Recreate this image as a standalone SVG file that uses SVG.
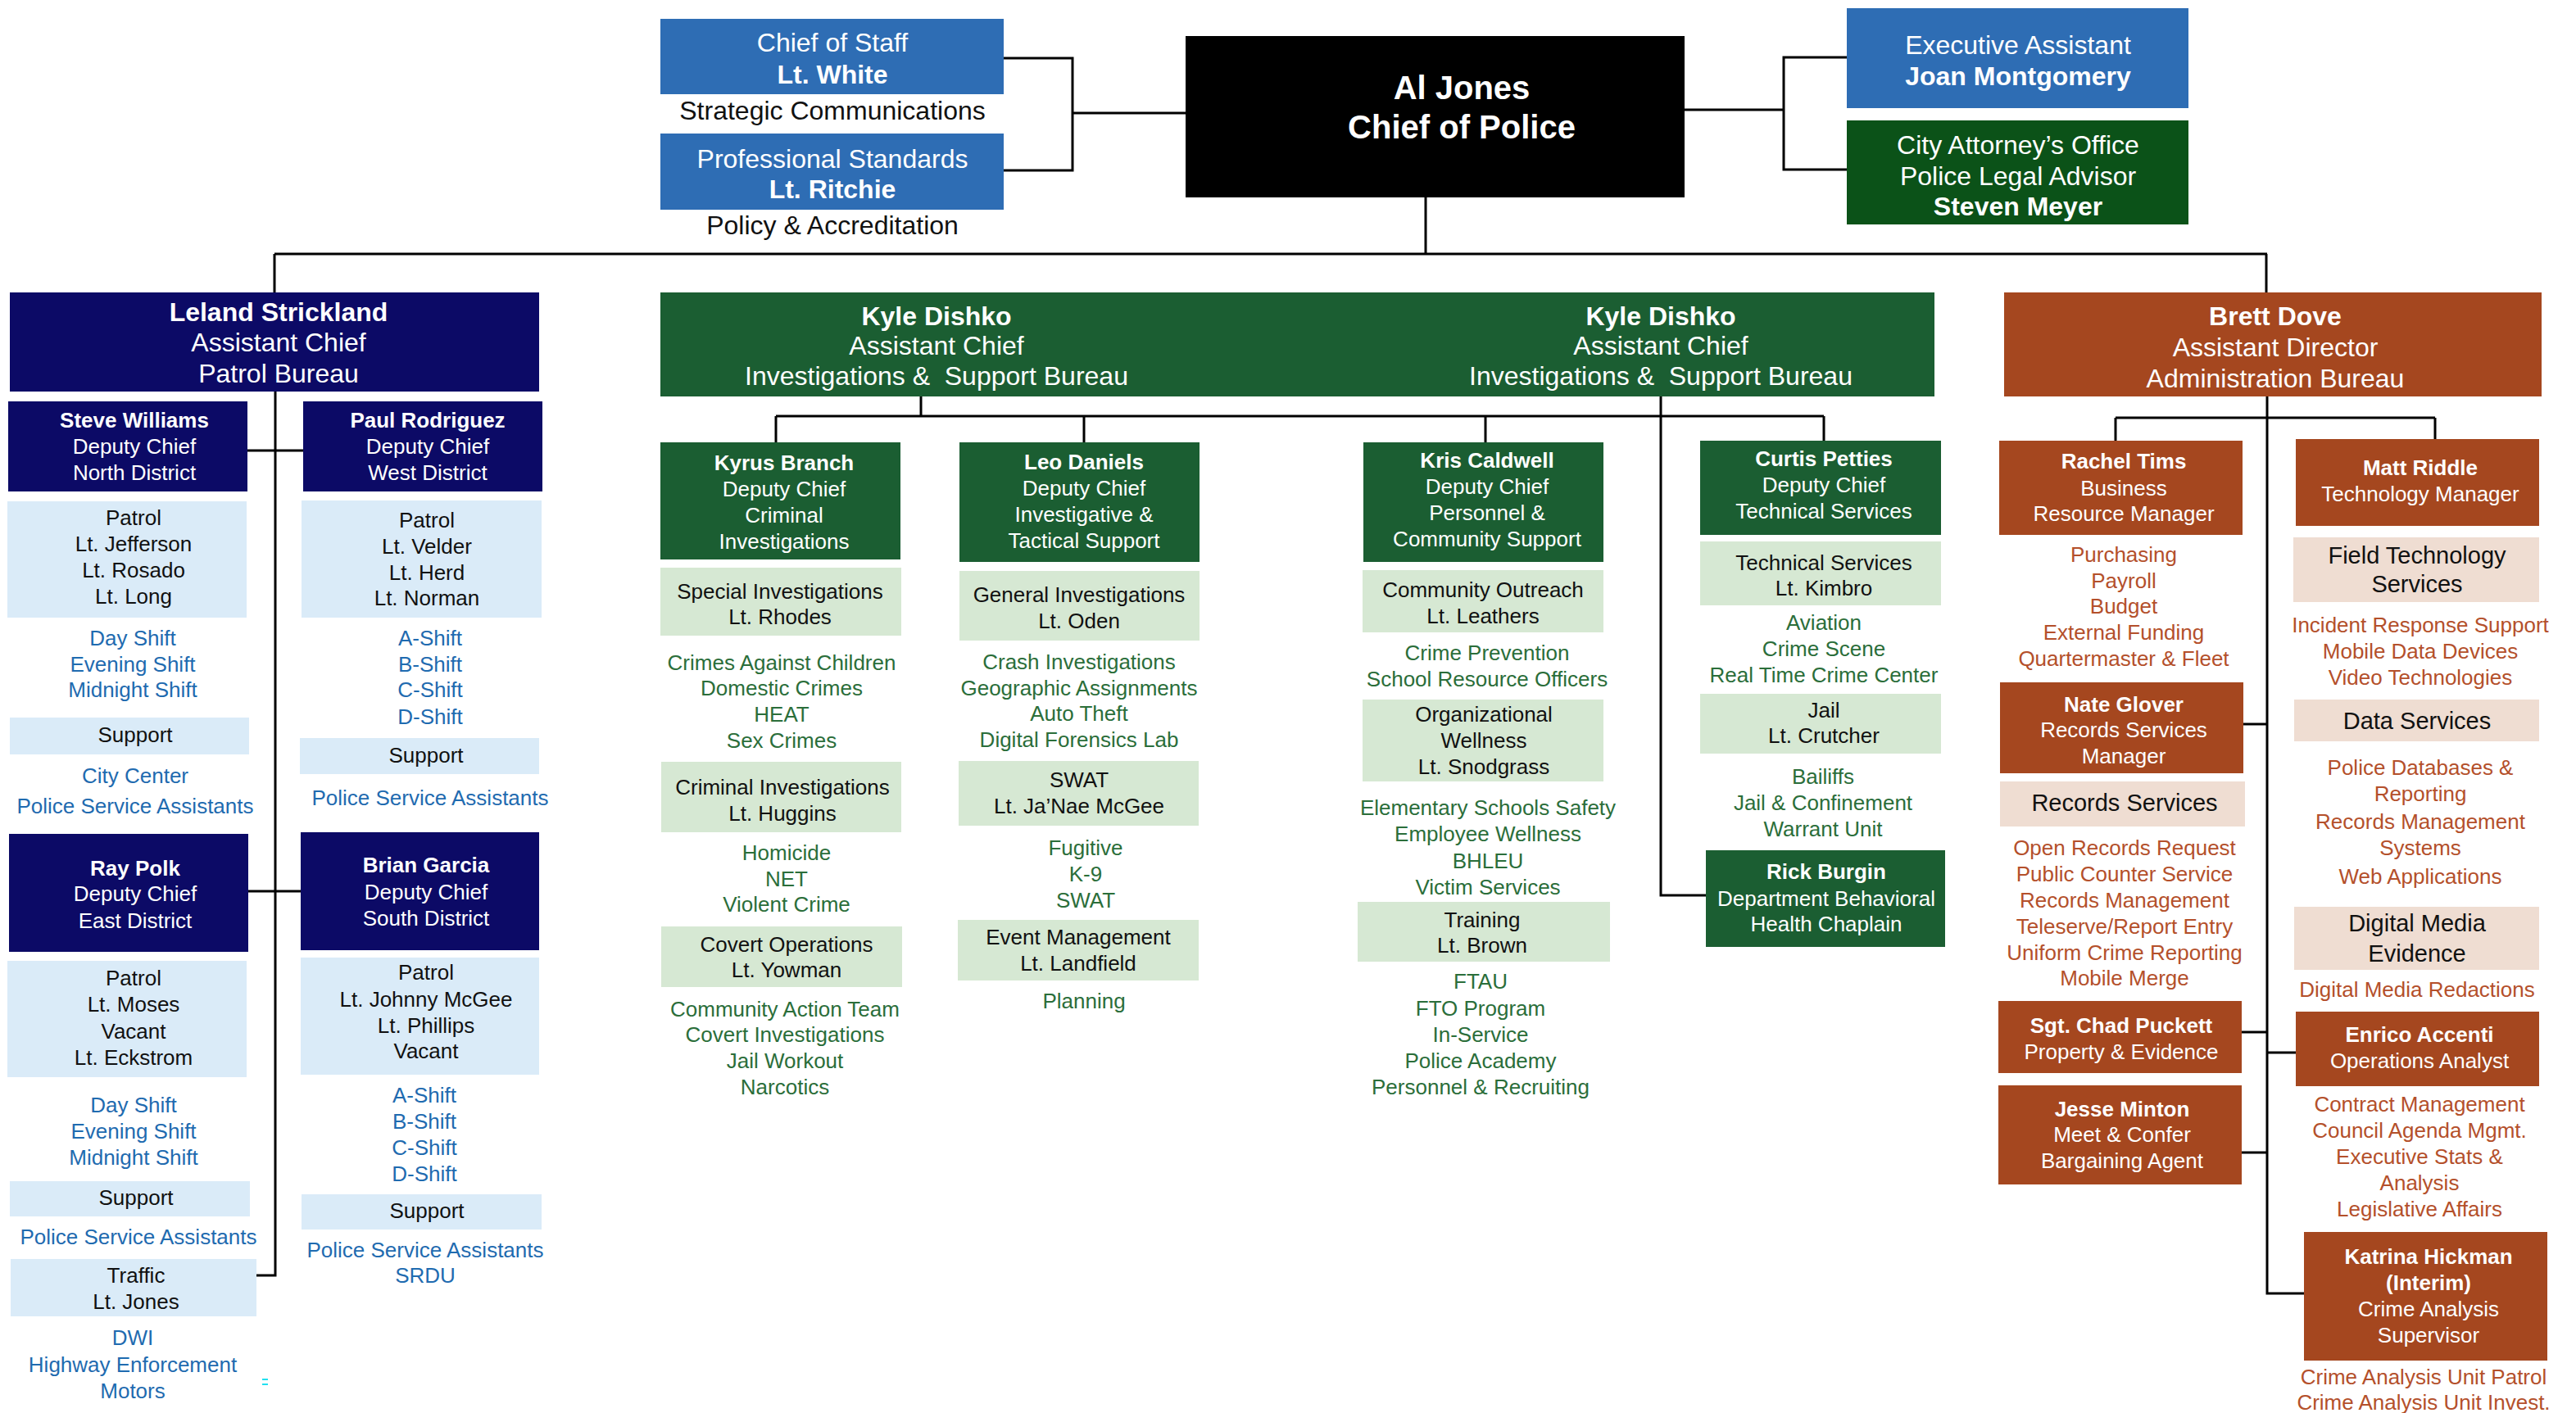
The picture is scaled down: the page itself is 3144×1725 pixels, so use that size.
<svg xmlns="http://www.w3.org/2000/svg" width="3144" height="1725" viewBox="0 0 3144 1725">
<style>
text{font-family:"Liberation Sans",Arial,Helvetica,sans-serif;text-anchor:middle;white-space:pre}
.s26{font-size:26px}.s29{font-size:29px}.s32{font-size:32px}.s40{font-size:40px}
.bd{font-weight:bold}
.wh{fill:#ffffff}.bk{fill:#111111}
.tb{fill:#1F6BB0}.tg{fill:#2B6E3A}.to{fill:#B4502B}
.blue{fill:#2E6DB4}.black{fill:#000000}.dg{fill:#0B5218}
.navy{fill:#0C0A66}.lb{fill:#DAEBF8}
.gr{fill:#1B5E32}.lg{fill:#D6E8D3}
.br{fill:#A5471F}.pc{fill:#EFDDD2}
.c{fill:none;stroke:#000000;stroke-width:3}
</style>
<rect width="3144" height="1725" fill="#ffffff"/>

<g id="connectors">
<path class="c" d="M1225,71 H1309 V208 H1225 M1309,138 H1447"/>
<path class="c" d="M2254,70 H2177 V207 H2254 M2056,134 H2177"/>
<path class="c" d="M1740,241 V310 M335,310 H2767 M335,310 V357 M2766,310 V357"/>
<path class="c" d="M336,478 V1557 H313 M302,550 H370 M303,1088 H367"/>
<path class="c" d="M1124,484 V508 M947,508 H2226 M947,508 V540 M1323,508 V540 M1813,508 V540 M2226,508 V538"/>
<path class="c" d="M2027,484 V1093 H2082"/>
<path class="c" d="M2767,484 V1579 H2812 M2582,510 H2972 M2582,510 V538 M2972,510 V536"/>
<path class="c" d="M2738,884 H2767 M2736,1260 H2767 M2767,1285 H2802 M2736,1407 H2767"/>
</g>

<g id="chief-of-staff">
<rect class="blue" x="806" y="23" width="419" height="92"/>
<text class="s32 wh" x="1016" y="63">Chief of Staff</text>
<text class="s32 wh bd" x="1016" y="102">Lt. White</text>
<text class="s32 bk" x="1016" y="146">Strategic Communications</text>
</g>
<g id="professional-standards">
<rect class="blue" x="806" y="163" width="419" height="93"/>
<text class="s32 wh" x="1016" y="205">Professional Standards</text>
<text class="s32 wh bd" x="1016" y="242">Lt. Ritchie</text>
<text class="s32 bk" x="1016" y="286">Policy &amp; Accreditation</text>
</g>
<g id="chief-of-police">
<rect class="black" x="1447" y="44" width="609" height="197"/>
<text class="s40 wh bd" x="1784" y="121">Al Jones</text>
<text class="s40 wh bd" x="1784" y="169">Chief of Police</text>
</g>
<g id="executive-assistant">
<rect class="blue" x="2254" y="10" width="417" height="122"/>
<text class="s32 wh" x="2463" y="66">Executive Assistant</text>
<text class="s32 wh bd" x="2463" y="104">Joan Montgomery</text>
</g>
<g id="city-attorney">
<rect class="dg" x="2254" y="147" width="417" height="127"/>
<text class="s32 wh" x="2463" y="188">City Attorney’s Office</text>
<text class="s32 wh" x="2463" y="226">Police Legal Advisor</text>
<text class="s32 wh bd" x="2463" y="263">Steven Meyer</text>
</g>

<g id="patrol-bureau">
<rect class="navy" x="12" y="357" width="646" height="121"/>
<text class="s32 wh bd" x="340" y="392">Leland Strickland</text>
<text class="s32 wh" x="340" y="429">Assistant Chief</text>
<text class="s32 wh" x="340" y="467">Patrol Bureau</text>
</g>
<g id="north-district">
<rect class="navy" x="10" y="490" width="292" height="110"/>
<text class="s26 wh bd" x="164" y="522">Steve Williams</text>
<text class="s26 wh" x="164" y="554">Deputy Chief</text>
<text class="s26 wh" x="164" y="586">North District</text>
<rect class="lb" x="9" y="612" width="292" height="142"/>
<text class="s26 bk" x="163" y="641">Patrol</text>
<text class="s26 bk" x="163" y="673">Lt. Jefferson</text>
<text class="s26 bk" x="163" y="705">Lt. Rosado</text>
<text class="s26 bk" x="163" y="737">Lt. Long</text>
<text class="s26 tb" x="162" y="788">Day Shift</text>
<text class="s26 tb" x="162" y="820">Evening Shift</text>
<text class="s26 tb" x="162" y="851">Midnight Shift</text>
<rect class="lb" x="12" y="876" width="292" height="45"/>
<text class="s26 bk" x="165" y="906">Support</text>
<text class="s26 tb" x="165" y="956">City Center</text>
<text class="s26 tb" x="165" y="993">Police Service Assistants</text>
</g>
<g id="west-district">
<rect class="navy" x="370" y="490" width="292" height="110"/>
<text class="s26 wh bd" x="522" y="522">Paul Rodriguez</text>
<text class="s26 wh" x="522" y="554">Deputy Chief</text>
<text class="s26 wh" x="522" y="586">West District</text>
<rect class="lb" x="368" y="611" width="293" height="143"/>
<text class="s26 bk" x="521" y="644">Patrol</text>
<text class="s26 bk" x="521" y="676">Lt. Velder</text>
<text class="s26 bk" x="521" y="708">Lt. Herd</text>
<text class="s26 bk" x="521" y="739">Lt. Norman</text>
<text class="s26 tb" x="525" y="788">A-Shift</text>
<text class="s26 tb" x="525" y="820">B-Shift</text>
<text class="s26 tb" x="525" y="851">C-Shift</text>
<text class="s26 tb" x="525" y="884">D-Shift</text>
<rect class="lb" x="366" y="901" width="292" height="44"/>
<text class="s26 bk" x="520" y="931">Support</text>
<text class="s26 tb" x="525" y="983">Police Service Assistants</text>
</g>
<g id="east-district">
<rect class="navy" x="11" y="1018" width="292" height="144"/>
<text class="s26 wh bd" x="165" y="1069">Ray Polk</text>
<text class="s26 wh" x="165" y="1100">Deputy Chief</text>
<text class="s26 wh" x="165" y="1133">East District</text>
<rect class="lb" x="9" y="1173" width="292" height="142"/>
<text class="s26 bk" x="163" y="1203">Patrol</text>
<text class="s26 bk" x="163" y="1235">Lt. Moses</text>
<text class="s26 bk" x="163" y="1268">Vacant</text>
<text class="s26 bk" x="163" y="1300">Lt. Eckstrom</text>
<text class="s26 tb" x="163" y="1358">Day Shift</text>
<text class="s26 tb" x="163" y="1390">Evening Shift</text>
<text class="s26 tb" x="163" y="1422">Midnight Shift</text>
<rect class="lb" x="12" y="1442" width="293" height="43"/>
<text class="s26 bk" x="166" y="1471">Support</text>
<text class="s26 tb" x="169" y="1519">Police Service Assistants</text>
</g>
<g id="south-district">
<rect class="navy" x="367" y="1016" width="291" height="144"/>
<text class="s26 wh bd" x="520" y="1065">Brian Garcia</text>
<text class="s26 wh" x="520" y="1098">Deputy Chief</text>
<text class="s26 wh" x="520" y="1130">South District</text>
<rect class="lb" x="367" y="1169" width="291" height="143"/>
<text class="s26 bk" x="520" y="1196">Patrol</text>
<text class="s26 bk" x="520" y="1229">Lt. Johnny McGee</text>
<text class="s26 bk" x="520" y="1261">Lt. Phillips</text>
<text class="s26 bk" x="520" y="1292">Vacant</text>
<text class="s26 tb" x="518" y="1346">A-Shift</text>
<text class="s26 tb" x="518" y="1378">B-Shift</text>
<text class="s26 tb" x="518" y="1410">C-Shift</text>
<text class="s26 tb" x="518" y="1442">D-Shift</text>
<rect class="lb" x="368" y="1458" width="293" height="43"/>
<text class="s26 bk" x="521" y="1487">Support</text>
<text class="s26 tb" x="519" y="1535">Police Service Assistants</text>
<text class="s26 tb" x="519" y="1566">SRDU</text>
</g>
<g id="traffic">
<rect class="lb" x="13" y="1537" width="300" height="70"/>
<text class="s26 bk" x="166" y="1566">Traffic</text>
<text class="s26 bk" x="166" y="1598">Lt. Jones</text>
<text class="s26 tb" x="162" y="1642">DWI</text>
<text class="s26 tb" x="162" y="1675">Highway Enforcement</text>
<text class="s26 tb" x="162" y="1707">Motors</text>
<rect x="320" y="1683" width="7" height="2" fill="#22E0F0"/>
<rect x="320" y="1689" width="7" height="2" fill="#22E0F0"/>
</g>

<g id="investigations-bureau">
<rect class="gr" x="806" y="357" width="1555" height="127"/>
<text class="s32 wh bd" x="1143" y="397">Kyle Dishko</text>
<text class="s32 wh" x="1143" y="433">Assistant Chief</text>
<text class="s32 wh" x="1143" y="470">Investigations &amp;  Support Bureau</text>
<text class="s32 wh bd" x="2027" y="397">Kyle Dishko</text>
<text class="s32 wh" x="2027" y="433">Assistant Chief</text>
<text class="s32 wh" x="2027" y="470">Investigations &amp;  Support Bureau</text>
</g>
<g id="criminal-investigations">
<rect class="gr" x="806" y="540" width="293" height="143"/>
<text class="s26 wh bd" x="957" y="574">Kyrus Branch</text>
<text class="s26 wh" x="957" y="606">Deputy Chief</text>
<text class="s26 wh" x="957" y="638">Criminal</text>
<text class="s26 wh" x="957" y="670">Investigations</text>
<rect class="lg" x="806" y="693" width="294" height="83"/>
<text class="s26 bk" x="952" y="731">Special Investigations</text>
<text class="s26 bk" x="952" y="762">Lt. Rhodes</text>
<text class="s26 tg" x="954" y="818">Crimes Against Children</text>
<text class="s26 tg" x="954" y="849">Domestic Crimes</text>
<text class="s26 tg" x="954" y="881">HEAT</text>
<text class="s26 tg" x="954" y="913">Sex Crimes</text>
<rect class="lg" x="807" y="930" width="293" height="86"/>
<text class="s26 bk" x="955" y="970">Criminal Investigations</text>
<text class="s26 bk" x="955" y="1002">Lt. Huggins</text>
<text class="s26 tg" x="960" y="1050">Homicide</text>
<text class="s26 tg" x="960" y="1082">NET</text>
<text class="s26 tg" x="960" y="1113">Violent Crime</text>
<rect class="lg" x="807" y="1131" width="294" height="74"/>
<text class="s26 bk" x="960" y="1162">Covert Operations</text>
<text class="s26 bk" x="960" y="1193">Lt. Yowman</text>
<text class="s26 tg" x="958" y="1241">Community Action Team</text>
<text class="s26 tg" x="958" y="1272">Covert Investigations</text>
<text class="s26 tg" x="958" y="1304">Jail Workout</text>
<text class="s26 tg" x="958" y="1336">Narcotics</text>
</g>
<g id="tactical-support">
<rect class="gr" x="1171" y="540" width="293" height="146"/>
<text class="s26 wh bd" x="1323" y="573">Leo Daniels</text>
<text class="s26 wh" x="1323" y="605">Deputy Chief</text>
<text class="s26 wh" x="1323" y="637">Investigative &amp;</text>
<text class="s26 wh" x="1323" y="669">Tactical Support</text>
<rect class="lg" x="1171" y="697" width="293" height="85"/>
<text class="s26 bk" x="1317" y="735">General Investigations</text>
<text class="s26 bk" x="1317" y="767">Lt. Oden</text>
<text class="s26 tg" x="1317" y="817">Crash Investigations</text>
<text class="s26 tg" x="1317" y="849">Geographic Assignments</text>
<text class="s26 tg" x="1317" y="880">Auto Theft</text>
<text class="s26 tg" x="1317" y="912">Digital Forensics Lab</text>
<rect class="lg" x="1170" y="929" width="293" height="79"/>
<text class="s26 bk" x="1317" y="961">SWAT</text>
<text class="s26 bk" x="1317" y="993">Lt. Ja’Nae McGee</text>
<text class="s26 tg" x="1325" y="1044">Fugitive</text>
<text class="s26 tg" x="1325" y="1076">K-9</text>
<text class="s26 tg" x="1325" y="1108">SWAT</text>
<rect class="lg" x="1169" y="1123" width="294" height="74"/>
<text class="s26 bk" x="1316" y="1153">Event Management</text>
<text class="s26 bk" x="1316" y="1185">Lt. Landfield</text>
<text class="s26 tg" x="1323" y="1231">Planning</text>
</g>
<g id="personnel-community">
<rect class="gr" x="1664" y="540" width="293" height="146"/>
<text class="s26 wh bd" x="1815" y="571">Kris Caldwell</text>
<text class="s26 wh" x="1815" y="603">Deputy Chief</text>
<text class="s26 wh" x="1815" y="635">Personnel &amp;</text>
<text class="s26 wh" x="1815" y="667">Community Support</text>
<rect class="lg" x="1663" y="696" width="294" height="76"/>
<text class="s26 bk" x="1810" y="729">Community Outreach</text>
<text class="s26 bk" x="1810" y="761">Lt. Leathers</text>
<text class="s26 tg" x="1815" y="806">Crime Prevention</text>
<text class="s26 tg" x="1815" y="838">School Resource Officers</text>
<rect class="lg" x="1663" y="854" width="294" height="100"/>
<text class="s26 bk" x="1811" y="881">Organizational</text>
<text class="s26 bk" x="1811" y="913">Wellness</text>
<text class="s26 bk" x="1811" y="945">Lt. Snodgrass</text>
<text class="s26 tg" x="1816" y="995">Elementary Schools Safety</text>
<text class="s26 tg" x="1816" y="1027">Employee Wellness</text>
<text class="s26 tg" x="1816" y="1060">BHLEU</text>
<text class="s26 tg" x="1816" y="1092">Victim Services</text>
<rect class="lg" x="1657" y="1101" width="308" height="73"/>
<text class="s26 bk" x="1809" y="1132">Training</text>
<text class="s26 bk" x="1809" y="1163">Lt. Brown</text>
<text class="s26 tg" x="1807" y="1207">FTAU</text>
<text class="s26 tg" x="1807" y="1240">FTO Program</text>
<text class="s26 tg" x="1807" y="1272">In-Service</text>
<text class="s26 tg" x="1807" y="1304">Police Academy</text>
<text class="s26 tg" x="1807" y="1336">Personnel &amp; Recruiting</text>
</g>
<g id="technical-services">
<rect class="gr" x="2075" y="538" width="294" height="115"/>
<text class="s26 wh bd" x="2226" y="569">Curtis Petties</text>
<text class="s26 wh" x="2226" y="601">Deputy Chief</text>
<text class="s26 wh" x="2226" y="633">Technical Services</text>
<rect class="lg" x="2075" y="661" width="294" height="78"/>
<text class="s26 bk" x="2226" y="696">Technical Services</text>
<text class="s26 bk" x="2226" y="727">Lt. Kimbro</text>
<text class="s26 tg" x="2226" y="769">Aviation</text>
<text class="s26 tg" x="2226" y="801">Crime Scene</text>
<text class="s26 tg" x="2226" y="833">Real Time Crime Center</text>
<rect class="lg" x="2075" y="847" width="294" height="73"/>
<text class="s26 bk" x="2226" y="876">Jail</text>
<text class="s26 bk" x="2226" y="907">Lt. Crutcher</text>
<text class="s26 tg" x="2225" y="957">Bailiffs</text>
<text class="s26 tg" x="2225" y="989">Jail &amp; Confinement</text>
<text class="s26 tg" x="2225" y="1021">Warrant Unit</text>
</g>
<g id="chaplain">
<rect class="gr" x="2082" y="1038" width="292" height="118"/>
<text class="s26 wh bd" x="2229" y="1073">Rick Burgin</text>
<text class="s26 wh" x="2229" y="1106">Department Behavioral</text>
<text class="s26 wh" x="2229" y="1137">Health Chaplain</text>
</g>

<g id="administration-bureau">
<rect class="br" x="2446" y="357" width="656" height="127"/>
<text class="s32 wh bd" x="2777" y="397">Brett Dove</text>
<text class="s32 wh" x="2777" y="435">Assistant Director</text>
<text class="s32 wh" x="2777" y="473">Administration Bureau</text>
</g>
<g id="business-resource">
<rect class="br" x="2440" y="538" width="297" height="115"/>
<text class="s26 wh bd" x="2592" y="572">Rachel Tims</text>
<text class="s26 wh" x="2592" y="605">Business</text>
<text class="s26 wh" x="2592" y="636">Resource Manager</text>
<text class="s26 to" x="2592" y="686">Purchasing</text>
<text class="s26 to" x="2592" y="718">Payroll</text>
<text class="s26 to" x="2592" y="749">Budget</text>
<text class="s26 to" x="2592" y="781">External Funding</text>
<text class="s26 to" x="2592" y="813">Quartermaster &amp; Fleet</text>
</g>
<g id="records-services">
<rect class="br" x="2441" y="833" width="297" height="111"/>
<text class="s26 wh bd" x="2592" y="869">Nate Glover</text>
<text class="s26 wh" x="2592" y="900">Records Services</text>
<text class="s26 wh" x="2592" y="932">Manager</text>
<rect class="pc" x="2441" y="954" width="299" height="55"/>
<text class="s29 bk" x="2593" y="990">Records Services</text>
<text class="s26 to" x="2593" y="1044">Open Records Request</text>
<text class="s26 to" x="2593" y="1076">Public Counter Service</text>
<text class="s26 to" x="2593" y="1108">Records Management</text>
<text class="s26 to" x="2593" y="1140">Teleserve/Report Entry</text>
<text class="s26 to" x="2593" y="1172">Uniform Crime Reporting</text>
<text class="s26 to" x="2593" y="1203">Mobile Merge</text>
</g>
<g id="property-evidence">
<rect class="br" x="2439" y="1222" width="297" height="88"/>
<text class="s26 wh bd" x="2589" y="1261">Sgt. Chad Puckett</text>
<text class="s26 wh" x="2589" y="1293">Property &amp; Evidence</text>
</g>
<g id="meet-confer">
<rect class="br" x="2439" y="1325" width="297" height="121"/>
<text class="s26 wh bd" x="2590" y="1363">Jesse Minton</text>
<text class="s26 wh" x="2590" y="1394">Meet &amp; Confer</text>
<text class="s26 wh" x="2590" y="1426">Bargaining Agent</text>
</g>
<g id="technology">
<rect class="br" x="2802" y="536" width="297" height="106"/>
<text class="s26 wh bd" x="2954" y="580">Matt Riddle</text>
<text class="s26 wh" x="2954" y="612">Technology Manager</text>
<rect class="pc" x="2799" y="656" width="300" height="79"/>
<text class="s29 bk" x="2950" y="688">Field Technology</text>
<text class="s29 bk" x="2950" y="723">Services</text>
<text class="s26 to" x="2954" y="772">Incident Response Support</text>
<text class="s26 to" x="2954" y="804">Mobile Data Devices</text>
<text class="s26 to" x="2954" y="836">Video Technologies</text>
<rect class="pc" x="2800" y="854" width="299" height="51"/>
<text class="s29 bk" x="2950" y="890">Data Services</text>
<text class="s26 to" x="2954" y="946">Police Databases &amp;</text>
<text class="s26 to" x="2954" y="978">Reporting</text>
<text class="s26 to" x="2954" y="1012">Records Management</text>
<text class="s26 to" x="2954" y="1044">Systems</text>
<text class="s26 to" x="2954" y="1079">Web Applications</text>
<rect class="pc" x="2800" y="1107" width="299" height="77"/>
<text class="s29 bk" x="2950" y="1137">Digital Media</text>
<text class="s29 bk" x="2950" y="1174">Evidence</text>
<text class="s26 to" x="2950" y="1217">Digital Media Redactions</text>
</g>
<g id="operations-analyst">
<rect class="br" x="2802" y="1235" width="297" height="91"/>
<text class="s26 wh bd" x="2953" y="1272">Enrico Accenti</text>
<text class="s26 wh" x="2953" y="1304">Operations Analyst</text>
<text class="s26 to" x="2953" y="1357">Contract Management</text>
<text class="s26 to" x="2953" y="1389">Council Agenda Mgmt.</text>
<text class="s26 to" x="2953" y="1421">Executive Stats &amp;</text>
<text class="s26 to" x="2953" y="1453">Analysis</text>
<text class="s26 to" x="2953" y="1485">Legislative Affairs</text>
</g>
<g id="crime-analysis">
<rect class="br" x="2812" y="1504" width="297" height="157"/>
<text class="s26 wh bd" x="2964" y="1543">Katrina Hickman</text>
<text class="s26 wh bd" x="2964" y="1575">(Interim)</text>
<text class="s26 wh" x="2964" y="1607">Crime Analysis</text>
<text class="s26 wh" x="2964" y="1639">Supervisor</text>
<text class="s26 to" x="2958" y="1690">Crime Analysis Unit Patrol</text>
<text class="s26 to" x="2958" y="1721">Crime Analysis Unit Invest.</text>
</g>
</svg>
